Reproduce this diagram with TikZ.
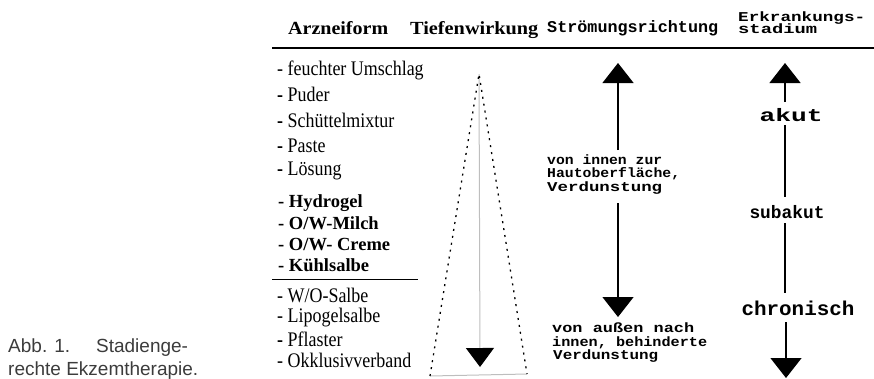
\documentclass[tikz,border=0pt]{standalone}
\usepackage{fontspec}
\setmainfont{Liberation Serif}
\setmonofont{Liberation Mono}
\newfontfamily\capfont{Liberation Sans}
\usepackage{graphicx}
\usetikzlibrary{arrows.meta}
\newcommand\fitw[2]{\resizebox{#1pt}{\height}{#2}}
\newcommand\tall[1]{\scalebox{0.97}[1.12]{#1}}
\definecolor{capgray}{RGB}{60,60,60}
\definecolor{lightline}{RGB}{190,190,190}
\begin{document}
\begin{tikzpicture}[x=1pt,y=-1pt,
  listitem/.style={anchor=base west, inner sep=0pt, font=\fontsize{18.5}{18}\selectfont},
  blistitem/.style={anchor=base west, inner sep=0pt, font=\fontsize{18.5}{18}\selectfont\bfseries},
  headtext/.style={anchor=base west, inner sep=0pt, font=\fontsize{18.5}{18}\selectfont\bfseries},
  monotext/.style={anchor=base west, inner sep=0pt, text height=9pt, text depth=2pt, font=\fontsize{13.5}{14}\selectfont\ttfamily\bfseries},
  stagetext/.style={anchor=base, inner sep=0pt, font=\fontsize{18}{18}\selectfont\ttfamily\bfseries},
  captext/.style={anchor=base west, inner sep=0pt, text=capgray, font=\fontsize{19}{19}\selectfont\capfont},
  arrowline/.style={line width=1.3pt, -{Triangle[width=31pt,length=20pt]}},
  solidline/.style={line width=1.3pt},
  dotline/.style={line width=1.3pt, dash pattern=on 2pt off 5pt},
  grayline/.style={line width=1pt, lightline},
]
\useasboundingbox (0,0) rectangle (874,378);

% header
\node[headtext] (h1) at (288,34) {\fitw{100}{Arzneiform}};
\node[headtext] (h2) at (410,34) {\fitw{128}{Tiefenwirkung}};
\node[anchor=base west, inner sep=0pt, font=\fontsize{16.5}{16}\selectfont\ttfamily\bfseries] (h3) at (547,32) {\fitw{171}{Strömungsrichtung}};
\node[anchor=base west, inner sep=0pt, font=\fontsize{13.5}{12}\selectfont\ttfamily\bfseries] (h4) at (738,21) {\fitw{127}{Erkrankungs-}};
\node[anchor=base west, inner sep=0pt, font=\fontsize{13.5}{12}\selectfont\ttfamily\bfseries] (h5) at (738,33) {\fitw{79}{stadium}};
\coordinate (hl1) at (272,48);
\coordinate (hl2) at (874,48);
\draw[line width=1.2pt] (hl1) -- (hl2);

% list
\node[listitem] (i1) at (277,75) {\tall{- feuchter Umschlag}};
\node[listitem] (i2) at (277,101) {\tall{{\bfseries -} Puder}};
\node[listitem] (i3) at (277,127) {\tall{{\bfseries -} Schüttelmixtur}};
\node[listitem] (i4) at (277,152) {\tall{{\bfseries -} Paste}};
\node[listitem] (i5) at (277,175) {\tall{{\bfseries -} Lösung}};
\node[blistitem] (i6) at (278,207) {- Hydrogel};
\node[blistitem] (i7) at (278,229) {- O/W-Milch};
\node[blistitem] (i8) at (278,250) {- O/W- Creme};
\node[blistitem] (i9) at (278,271) {- Kühlsalbe};
\coordinate (ll1) at (272,279);
\coordinate (ll2) at (418,279);
\draw[line width=1pt] (ll1) -- (ll2);
\node[listitem] (i10) at (277,302) {\tall{- W/O-Salbe}};
\node[listitem] (i11) at (277,322) {\tall{- Lipogelsalbe}};
\node[listitem] (i12) at (277,346) {\tall{{\bfseries -} Pflaster}};
\node[listitem] (i13) at (277,367) {\tall{- Okklusivverband}};

% depth triangle
\coordinate (apex) at (479,74);
\coordinate (bl) at (430,376);
\coordinate (br) at (527,374);
\coordinate (tdown) at (480,367);
\draw[grayline] (bl) -- (br);
\draw[grayline, -{Triangle[width=28pt,length=19pt,color=black,fill=black]}] (apex) -- (tdown);
\draw[dotline] (bl) -- (apex) -- (br);

% flow direction
\node[monotext] (s1) at (547,164) {\fitw{115}{von innen zur}};
\node[monotext] (s2) at (547,177) {\fitw{133}{Hautoberfläche,}};
\node[monotext] (s3) at (547,191) {\fitw{115}{Verdunstung}};
\node[monotext] (s4) at (552,332) {\fitw{142}{von außen nach}};
\node[monotext] (s5) at (552,346) {\fitw{155}{innen, behinderte}};
\node[monotext] (s6) at (553,359) {\fitw{105}{Verdunstung}};
\coordinate (sup) at (618,63);
\coordinate (sa) at (618,150);
\coordinate (sb) at (618,203);
\coordinate (sdown) at (618,317);
\draw[arrowline] (sa) -- (sup);
\draw[arrowline] (sb) -- (sdown);

% stage
\node[stagetext] (akut) at (791,121) {\fitw{63}{akut}};
\node[stagetext] (subakut) at (787,218) {\fitw{75}{subakut}};
\node[stagetext, font=\fontsize{20}{20}\selectfont\ttfamily\bfseries] (chron) at (798,315) {\fitw{113}{chronisch}};
\coordinate (eup) at (785,63);
\coordinate (e1) at (785,102);
\coordinate (e2) at (785,125);
\coordinate (e3) at (785,197);
\coordinate (e4) at (785,223);
\coordinate (e5) at (785,293);
\coordinate (e6) at (786,322);
\coordinate (edown) at (786,378);
\draw[arrowline] (e1) -- (eup);
\draw[solidline] (e2) -- (e3);
\draw[solidline] (e4) -- (e5);
\draw[arrowline] (e6) -- (edown);

% caption
\node[captext] (c1) at (8,352) {Abb. 1.\hspace{26pt}Stadienge-};
\node[captext] (c2) at (8,375) {rechte Ekzemtherapie.};
\end{tikzpicture}
\end{document}
